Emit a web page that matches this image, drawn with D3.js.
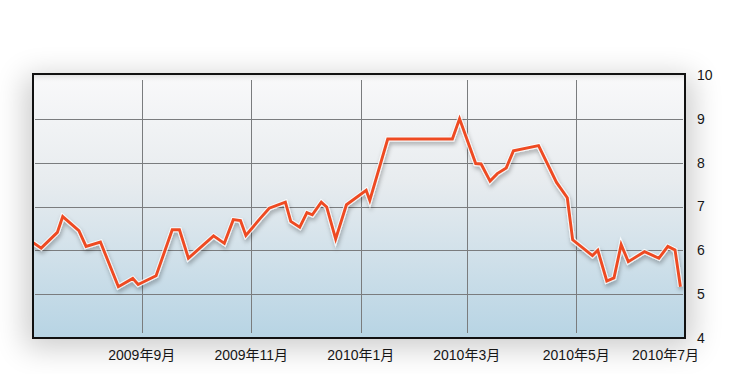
<!DOCTYPE html>
<html>
<head>
<meta charset="utf-8">
<script src="https://cdn.jsdelivr.net/npm/d3@7"></script>
<style>
    body { margin: 0; background: #fff; }
    svg { display: block; }
    text { font-family: "Liberation Sans", "Noto Sans CJK JP", sans-serif; fill: #161616; }
</style>
</head>
<body>
<svg id="svgChart" width="748" height="374"></svg>
<script>
// data
const dates = [
    "2009-07-02", "2009-07-07", "2009-07-16", "2009-07-19", "2009-07-28", "2009-08-01", "2009-08-09",
    "2009-08-19", "2009-08-27", "2009-08-30", "2009-09-09", "2009-09-18", "2009-09-22", "2009-09-27",
    "2009-10-11", "2009-10-17", "2009-10-22", "2009-10-26", "2009-10-29", "2009-11-06", "2009-11-11",
    "2009-11-20", "2009-11-23", "2009-11-28", "2009-12-02", "2009-12-05", "2009-12-10", "2009-12-13",
    "2009-12-18", "2009-12-24", "2010-01-04", "2010-01-06", "2010-01-16", "2010-02-21", "2010-02-25",
    "2010-03-06", "2010-03-09", "2010-03-14", "2010-03-18", "2010-03-23", "2010-03-27", "2010-04-10",
    "2010-04-20", "2010-04-26", "2010-04-29", "2010-05-10", "2010-05-13", "2010-05-18", "2010-05-22",
    "2010-05-26", "2010-05-30", "2010-06-08", "2010-06-16", "2010-06-21", "2010-06-25", "2010-06-28"
];
const values = [
    6.19, 6.05, 6.41, 6.77, 6.45, 6.09, 6.19,
    5.17, 5.36, 5.22, 5.42, 6.47, 6.47, 5.82,
    6.33, 6.16, 6.70, 6.68, 6.34, 6.73, 6.96,
    7.10, 6.66, 6.53, 6.86, 6.81, 7.10, 6.99,
    6.26, 7.04, 7.37, 7.14, 8.54, 8.54, 9.00,
    7.98, 7.97, 7.58, 7.75, 7.88, 8.27, 8.39,
    7.55, 7.20, 6.24, 5.88, 6.00, 5.30, 5.37,
    6.13, 5.74, 5.97, 5.82, 6.09, 6.01, 5.17
];
const xTickDates = ["2009-09-01", "2009-11-01", "2010-01-01", "2010-03-01", "2010-05-01", "2010-07-01"];
const yTicks = [4, 5, 6, 7, 8, 9, 10];
const xDomain = ["2009-07-01", "2010-07-01"];
const yDomain = [4, 10];

const frame = {left: 33, right: 685, top: 74, bottom: 338};

const parseDate = d3.timeParse("%Y-%m-%d");
const formatTick = d3.timeFormat("%Y年%-m月");

const data = dates.map((d, i) => ({date: parseDate(d), value: values[i]}));

const svg = d3.select('#svgChart');
const defs = svg.append('defs');

const xScale = d3.scaleTime()
    .domain(xDomain.map(parseDate))
    .range([30.4, 685.8]);

const yScale = d3.scaleLinear()
    .domain(yDomain)
    .range([frame.bottom, frame.top + 1]);

// background gradient of plot area
const grad = defs.append('linearGradient')
    .attr('id', 'bgGrad')
    .attr('x1', 0).attr('y1', 0).attr('x2', 0).attr('y2', 1);
grad.append('stop').attr('offset', '0%').attr('stop-color', '#f9f9fa');
grad.append('stop').attr('offset', '40%').attr('stop-color', '#e8ecef');
grad.append('stop').attr('offset', '100%').attr('stop-color', '#b7d4e4');

const topShade = defs.append('linearGradient')
    .attr('id', 'topShade')
    .attr('x1', 0).attr('y1', 0).attr('x2', 0).attr('y2', 1);
topShade.append('stop').attr('offset', '0%').attr('stop-color', '#c8c8c8').attr('stop-opacity', 0.6);
topShade.append('stop').attr('offset', '100%').attr('stop-color', '#ffffff').attr('stop-opacity', 0);

defs.append('filter')
    .attr('id', 'boxShadow')
    .attr('x', '-20%').attr('y', '-30%').attr('width', '140%').attr('height', '160%')
    .append('feGaussianBlur')
    .attr('stdDeviation', 15);

const lineShadow = defs.append('filter')
    .attr('id', 'lineShadow')
    .attr('x', '-10%').attr('y', '-20%').attr('width', '120%').attr('height', '140%');
lineShadow.append('feDropShadow')
    .attr('dx', 1).attr('dy', 3)
    .attr('stdDeviation', 2)
    .attr('flood-color', '#000')
    .attr('flood-opacity', 0.35);

defs.append('clipPath')
    .attr('id', 'plotClip')
    .append('rect')
    .attr('x', frame.left + 1)
    .attr('y', frame.top + 1)
    .attr('width', frame.right - frame.left - 2)
    .attr('height', frame.bottom - frame.top - 2);

// soft shadow round the box
svg.append('rect')
    .attr('x', frame.left - 8)
    .attr('y', frame.top + 2)
    .attr('width', frame.right - frame.left + 16)
    .attr('height', frame.bottom - frame.top + 8)
    .style('fill', '#000')
    .style('opacity', 0.2)
    .attr('filter', 'url(#boxShadow)');

svg.append('rect')
    .attr('x', frame.left)
    .attr('y', frame.top)
    .attr('width', frame.right - frame.left)
    .attr('height', frame.bottom - frame.top)
    .style('fill', 'url(#bgGrad)');

svg.append('rect')
    .attr('x', frame.left)
    .attr('y', frame.top)
    .attr('width', frame.right - frame.left)
    .attr('height', 10)
    .style('fill', 'url(#topShade)');

// grid
const tickDates = xTickDates.map(parseDate);

svg.append('g')
    .selectAll('line')
    .data(yTicks.filter(v => v > yDomain[0] && v < yDomain[1]))
    .join('line')
    .attr('x1', frame.left + 2)
    .attr('x2', frame.right - 2)
    .attr('y1', d => Math.round(yScale(d)) + 0.5)
    .attr('y2', d => Math.round(yScale(d)) + 0.5)
    .style('stroke', '#7a7c7e')
    .style('stroke-width', 1);

svg.append('g')
    .selectAll('line')
    .data(tickDates.filter(d => xScale(d) < frame.right - 4))
    .join('line')
    .attr('x1', d => Math.round(xScale(d)) + 0.5)
    .attr('x2', d => Math.round(xScale(d)) + 0.5)
    .attr('y1', frame.top + 6)
    .attr('y2', frame.bottom - 5)
    .style('stroke', '#7a7c7e')
    .style('stroke-width', 1);

// line
const line = d3.line()
    .x(d => xScale(d.date))
    .y(d => yScale(d.value));

const plot = svg.append('g').attr('clip-path', 'url(#plotClip)');

plot.append('path')
    .datum(data)
    .attr('d', line)
    .attr('filter', 'url(#lineShadow)')
    .style('fill', 'none')
    .style('stroke', '#ffffff')
    .style('stroke-width', 5)
    .style('stroke-linejoin', 'miter')
    .style('stroke-opacity', 0.8);

plot.append('path')
    .datum(data)
    .attr('d', line)
    .style('fill', 'none')
    .style('stroke', '#ee4a22')
    .style('stroke-width', 2.9)
    .style('stroke-linejoin', 'miter');

// frame
svg.append('rect')
    .attr('x', frame.left)
    .attr('y', frame.top)
    .attr('width', frame.right - frame.left)
    .attr('height', frame.bottom - frame.top)
    .style('fill', 'none')
    .style('stroke', '#111')
    .style('stroke-width', 2);

// right axis labels
svg.append('g')
    .selectAll('text')
    .data(yTicks)
    .join('text')
    .attr('x', frame.right + 12)
    .attr('y', d => yScale(d))
    .attr('dy', '0.35em')
    .style('font-size', '14px')
    .text(d => d);

// bottom axis labels
const xLabels = svg.append('g')
    .selectAll('text')
    .data(tickDates)
    .join('text')
    .attr('x', d => xScale(d))
    .attr('y', 355)
    .attr('dy', '0.35em')
    .style('font-size', '14px')
    .style('text-anchor', 'middle')
    .text(d => formatTick(d));

// keep the last label inside the picture
xLabels.each(function () {
    const box = this.getBBox();
    if (box.x + box.width > 699) {
        d3.select(this).attr('x', +d3.select(this).attr('x') - (box.x + box.width - 699));
    }
});
</script>
</body>
</html>
